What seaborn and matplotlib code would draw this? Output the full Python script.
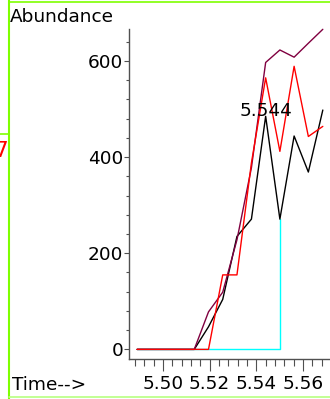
import matplotlib
matplotlib.use("Agg")
import matplotlib.pyplot as plt
from matplotlib.lines import Line2D
from matplotlib.ticker import MultipleLocator, FormatStrFormatter
import pandas as pd
import seaborn as sns

# Retention times of the scans (min)
times = [5.4889, 5.4950, 5.5011, 5.5073, 5.5134, 5.5195, 5.5256,
         5.5317, 5.5379, 5.5440, 5.5501, 5.5562, 5.5623, 5.5685]
# Abundance traces
tic_trace = [0, 0, 0, 0, 0, 47, 104, 235, 271, 485, 271, 444, 369, 498]
sum_trace = [0, 0, 0, 0, 0, 78, 119, 228, 378, 597, 623, 608, 637, 666]
ion_trace = [0, 0, 0, 0, 0, 0, 155, 155, 388, 565, 412, 589, 443, 464]
trace_names = ["tic", "sum", "ion"]
trace_colors = {"tic": "#000000", "sum": "#800040", "ion": "#ff0000"}
peak_index = 9
end_index = 10

x_major = 0.02
x_minor = 0.004
y_major = 200
y_minor = 40

frames = []
for name, vals in zip(trace_names, [tic_trace, sum_trace, ion_trace]):
    frames.append(pd.DataFrame({"time": times, "abundance": vals, "trace": name}))
df = pd.concat(frames, ignore_index=True)

sns.set_style("ticks")
plt.rcParams["font.family"] = ["DejaVu Sans"]
plt.rcParams["font.size"] = 13.3

W, H = 330, 399
fig = plt.figure(figsize=(W / 100, H / 100), dpi=100)
ax = fig.add_axes([129.3 / W, 40 / H, (W - 129.3) / W, 329.7 / H])

# integration baseline and end marker
ax.plot([times[0], times[end_index], times[end_index]],
        [0, 0, tic_trace[end_index]], color="#00ffff", lw=1.0, zorder=1)

sns.lineplot(data=df, x="time", y="abundance", hue="trace",
             hue_order=trace_names, palette=trace_colors, legend=False,
             lw=1.0, ax=ax, zorder=2, clip_on=False)

ax.text(times[peak_index], tic_trace[peak_index], f"{times[peak_index]:.3f}",
        ha="center", va="baseline", fontsize=13.3, color="black", zorder=5)

ax.set_xlim(5.48556, 5.57158)
ax.set_ylim(-20, max(sum_trace))
ax.xaxis.set_major_locator(MultipleLocator(x_major))
ax.xaxis.set_minor_locator(MultipleLocator(x_minor))
ax.xaxis.set_major_formatter(FormatStrFormatter("%.2f"))
ax.yaxis.set_major_locator(MultipleLocator(y_major))
ax.yaxis.set_minor_locator(MultipleLocator(y_minor))
ax.set_xlabel("")
ax.set_ylabel("")

spine_c = "#505050"
for s in ["top", "right"]:
    ax.spines[s].set_visible(False)
for s in ["left", "bottom"]:
    ax.spines[s].set_color(spine_c)
    ax.spines[s].set_linewidth(1.0)
ax.tick_params(axis="x", which="major", direction="out", length=8.6, width=0.8,
               color=spine_c, pad=3.2, labelsize=13.3, labelcolor="black")
ax.tick_params(axis="x", which="minor", direction="out", length=4.8, width=0.8,
               color=spine_c)
ax.tick_params(axis="y", which="major", direction="out", length=3.8, width=0.8,
               color=spine_c, pad=0.6, labelsize=13.3, labelcolor="black")
ax.tick_params(axis="y", which="minor", direction="out", length=2.0, width=0.8,
               color=spine_c)
ax.set_facecolor("white")

fig.text(9.5 / W, 1 - 21.7 / H, "Abundance", ha="left", va="baseline",
         fontsize=13.3, color="black")
fig.text(11.5 / W, 1 - 390.5 / H, "Time-->", ha="left", va="baseline",
         fontsize=13.3, color="black")
fig.text(7.5 / W, 1 - 156.7 / H, "7", ha="right", va="baseline",
         fontsize=15.5, color="#ff0000")

# panel frame lines
green = "#7fff00"
fig.add_artist(Line2D([8.5 / W, 8.5 / W], [0, 1], transform=fig.transFigure,
                      color=green, lw=1.5))
fig.add_artist(Line2D([8.5 / W, 1], [1 - 1.7 / H, 1 - 1.7 / H],
                      transform=fig.transFigure, color=green, lw=1.2))
fig.add_artist(Line2D([0, 8.5 / W], [1 - 134 / H, 1 - 134 / H],
                      transform=fig.transFigure, color=green, lw=1.2))
fig.add_artist(Line2D([8.5 / W, 1], [1 - 397.3 / H, 1 - 397.3 / H],
                      transform=fig.transFigure, color="#b8ff80", lw=1.2))

fig.savefig("out.png", dpi=100, facecolor="white")
